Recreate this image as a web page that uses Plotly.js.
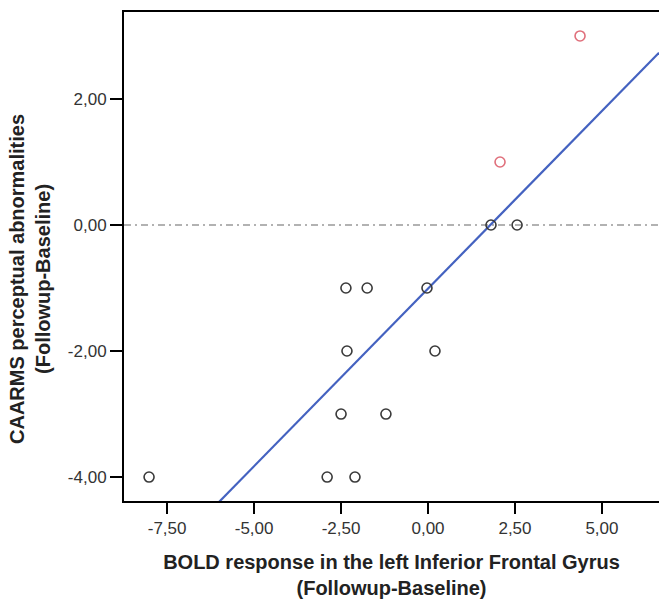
<!DOCTYPE html>
<html>
<head>
<meta charset="utf-8">
<script src="https://cdn.plot.ly/plotly-3.0.1.min.js"></script>
<style>html,body{margin:0;padding:0;background:#fff;}#chart{width:659px;height:599px;}</style>
</head>
<body>
<div id="chart"></div>
<script>
// Black (grey) points
var xBlack = [-8.02, -2.90, -2.10, -2.50, -1.21, -2.33, 0.20, -2.36, -1.75, -0.03, 1.81, 2.56];
var yBlack = [-4, -4, -4, -3, -3, -2, -2, -1, -1, -1, 0, 0];
// Red points
var xRed = [2.07, 4.37];
var yRed = [1, 3];

var xTicks = [-7.5, -5, -2.5, 0, 2.5, 5];
var xTickText = ['-7,50', '-5,00', '-2,50', '0,00', '2,50', '5,00'];
var yTicks = [-4, -2, 0, 2];
var yTickText = ['-4,00', '-2,00', '0,00', '2,00'];
var xRange = [-8.74, 6.64];
var yRange = [-4.38, 3.38];

// OLS fit over all points
var xs = xBlack.concat(xRed), ys = yBlack.concat(yRed);
var n = xs.length, mx = 0, my = 0;
for (var i = 0; i < n; i++) { mx += xs[i]; my += ys[i]; }
mx /= n; my /= n;
var sxx = 0, sxy = 0;
for (var i = 0; i < n; i++) { sxx += (xs[i]-mx)*(xs[i]-mx); sxy += (xs[i]-mx)*(ys[i]-my); }
var slope = sxy / sxx, icpt = my - slope * mx;
var fitX = [xRange[0], xRange[1]];
var fitY = fitX.map(function(v){ return icpt + slope * v; });

var traces = [
  {x: fitX, y: fitY, mode: 'lines', line: {color: '#4462c0', width: 2.2}, hoverinfo: 'skip', showlegend: false},
  {x: xBlack, y: yBlack, mode: 'markers', marker: {symbol: 'circle-open', size: 10, color: '#3a3a3a', line: {width: 1.6, color: '#3a3a3a'}}, showlegend: false},
  {x: xRed, y: yRed, mode: 'markers', marker: {symbol: 'circle-open', size: 10, color: '#e0707c', line: {width: 1.6, color: '#e0707c'}}, showlegend: false}
];

var fontTitle = {family: 'Liberation Sans, Arial, sans-serif', size: 20, color: '#222'};
var fontTick = {family: 'Liberation Sans, Arial, sans-serif', size: 17, color: '#333'};

var layout = {
  width: 659, height: 599,
  margin: {l: 124, r: 0, t: 12, b: 98},
  paper_bgcolor: '#fff', plot_bgcolor: '#fff',
  showlegend: false,
  xaxis: {
    range: xRange, tickvals: xTicks, ticktext: xTickText,
    showgrid: false, zeroline: false,
    showline: true, linecolor: '#000', linewidth: 2, mirror: true,
    ticks: 'outside', ticklen: 11, tickwidth: 2, tickcolor: '#000',
    tickfont: fontTick,
    title: {text: '<b>BOLD response in the left Inferior Frontal Gyrus</b><br><b>(Followup-Baseline)</b>', font: fontTitle, standoff: 18}
  },
  yaxis: {
    range: yRange, tickvals: yTicks, ticktext: yTickText,
    showgrid: false, zeroline: false,
    showline: true, linecolor: '#000', linewidth: 2,
    ticks: 'outside', ticklen: 12, tickwidth: 2, tickcolor: '#000',
    tickfont: fontTick
  },
  annotations: [{
    text: '<b>CAARMS perceptual abnormalities</b><br><b>(Followup-Baseline)</b>',
    font: fontTitle, textangle: -90, showarrow: false,
    xref: 'paper', yref: 'paper', x: -0.1757, y: 0.454,
    xanchor: 'center', yanchor: 'middle'
  }],
  shapes: [{
    type: 'line', xref: 'paper', x0: 0, x1: 1, yref: 'y', y0: 0, y1: 0,
    line: {color: '#666', width: 1.2, dash: '7px,4px,2px,4px'}, layer: 'below'
  }]
};

Plotly.newPlot('chart', traces, layout, {displayModeBar: false, staticPlot: true});
</script>
</body>
</html>
